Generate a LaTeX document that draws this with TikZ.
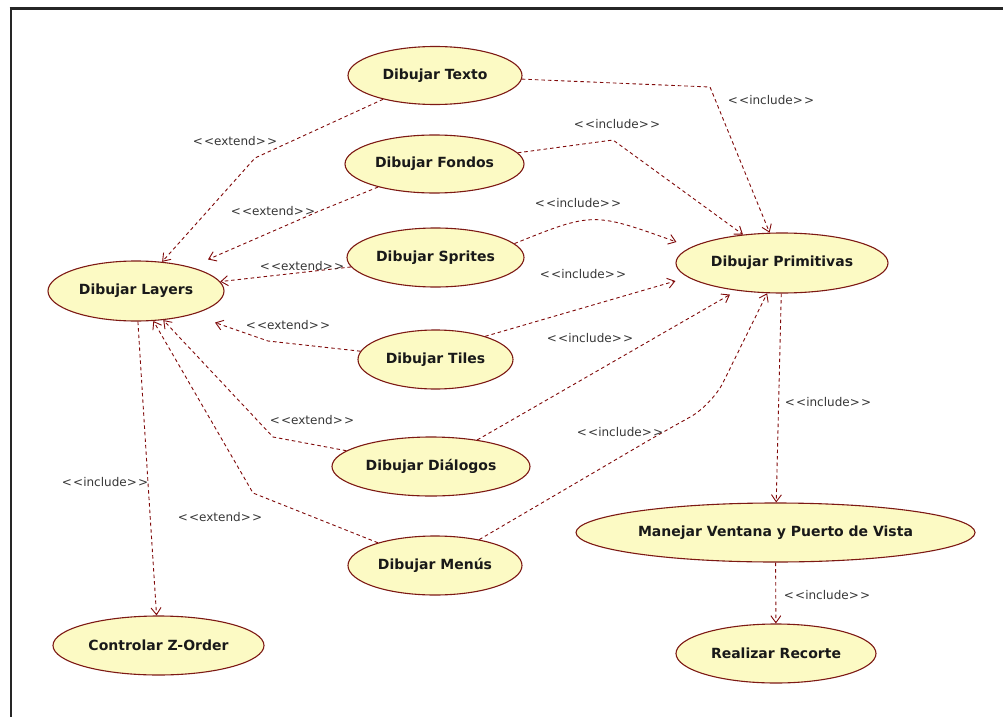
\documentclass[tikz,border=0pt]{standalone}
\usepackage{fontspec}
\setmainfont{DejaVu Sans}
\usetikzlibrary{shapes.geometric,arrows.meta,calc}
\definecolor{ucfill}{RGB}{252,250,196}
\definecolor{ucline}{RGB}{125,25,20}
\definecolor{depcol}{RGB}{128,10,10}
\definecolor{labgray}{RGB}{55,55,55}
\newcommand\stereo[1]{\textless\kern1.2pt\textless\kern0pt#1\kern0pt\textgreater\kern1.2pt\textgreater}
\begin{document}
\begin{tikzpicture}[x=1pt,y=-1pt,
  usecase/.style={ellipse,draw=ucline,fill=ucfill,line width=1.1pt,inner sep=0pt,
    font=\fontsize{14}{16}\selectfont\bfseries,text=black!90},
  dep/.style={draw=depcol,line width=0.9pt,dash pattern=on 3.5pt off 3pt,
    -{Straight Barb[length=7pt,width=10pt]}},
  stlabel/.style={font=\fontsize{12}{14}\selectfont,text=labgray,inner sep=1pt}]
\useasboundingbox (0,0) rectangle (1003,717);
\fill[white] (0,0) rectangle (1003,717);
\draw[line width=3pt,black!85] (9.5,9) -- (1003,9);
\draw[line width=2.6pt,black!85] (11,7.5) -- (11,717);

% use cases
\node[usecase,minimum width=174pt,minimum height=58pt] (texto) at (435,75.5) {Dibujar Texto};
\node[usecase,minimum width=179pt,minimum height=58pt] (fondos) at (434.5,164) {Dibujar Fondos};
\node[usecase,minimum width=177pt,minimum height=59pt] (sprites) at (435.5,257.5) {Dibujar Sprites};
\node[usecase,minimum width=176pt,minimum height=60pt] (layers) at (136,291) {Dibujar Layers};
\node[usecase,minimum width=155pt,minimum height=59pt] (tiles) at (435.5,359.5) {Dibujar Tiles};
\node[usecase,minimum width=198pt,minimum height=59pt] (dialogos) at (431,466.5) {Dibujar Diálogos};
\node[usecase,minimum width=174pt,minimum height=59pt] (menus) at (435,565.5) {Dibujar Menús};
\node[usecase,minimum width=212pt,minimum height=60pt] (prim) at (782,263) {Dibujar Primitivas};
\node[usecase,minimum width=399pt,minimum height=59pt] (ventana) at (775.5,532.5) {Manejar Ventana y Puerto de Vista};
\node[usecase,minimum width=200pt,minimum height=59pt] (recorte) at (776,653.5) {Realizar Recorte};
\node[usecase,minimum width=211pt,minimum height=59pt] (zorder) at (158.5,645.5) {Controlar Z-Order};

% include connectors
\draw[dep] (texto) -- (710,87) -- (prim);
\draw[dep] (fondos) -- (613,140) -- (prim);
\draw[dep] (sprites.10) .. controls (593,212) .. ($(prim.west)+(1,-21)$);
\draw[dep] (tiles.25) -- ($(prim.west)+(0,18)$);
\draw[dep] (dialogos) -- ($(prim.south)+(-52,1)$);
\draw[dep,rounded corners=25pt] (menus) -- (663,432) -- (712,405) -- (prim);
\draw[dep] (prim) -- (ventana);
\draw[dep] (ventana) -- (recorte);
\draw[dep] (layers) -- (148,483) -- (zorder);

% extend connectors
\draw[dep] (texto) -- (255,158) -- (layers);
\draw[dep] (fondos) -- (317,212) -- ($(layers.north)+(72,-1)$);
\draw[dep] (sprites) -- (layers);
\draw[dep] (tiles) -- (268,341) -- ($(layers.south)+(79,1)$);
\draw[dep] (dialogos) -- (273,437) -- (layers);
\draw[dep] (menus) -- (253,493) -- (layers);

% labels
\node[stlabel] (li1) at (771,100) {\stereo{include}};
\node[stlabel] (li2) at (617,124) {\stereo{include}};
\node[stlabel] (li3) at (578,203) {\stereo{include}};
\node[stlabel] (li4) at (583,274) {\stereo{include}};
\node[stlabel] (li5) at (590,338) {\stereo{include}};
\node[stlabel] (li6) at (620,432) {\stereo{include}};
\node[stlabel] (li7) at (828,402) {\stereo{include}};
\node[stlabel] (li8) at (827,595) {\stereo{include}};
\node[stlabel] (li9) at (105,482) {\stereo{include}};
\node[stlabel] (le1) at (235,141) {\stereo{extend}};
\node[stlabel] (le2) at (273,211) {\stereo{extend}};
\node[stlabel] (le3) at (302,266) {\stereo{extend}};
\node[stlabel] (le4) at (288,325) {\stereo{extend}};
\node[stlabel] (le5) at (312,420) {\stereo{extend}};
\node[stlabel] (le6) at (220,517) {\stereo{extend}};
\end{tikzpicture}
\end{document}
